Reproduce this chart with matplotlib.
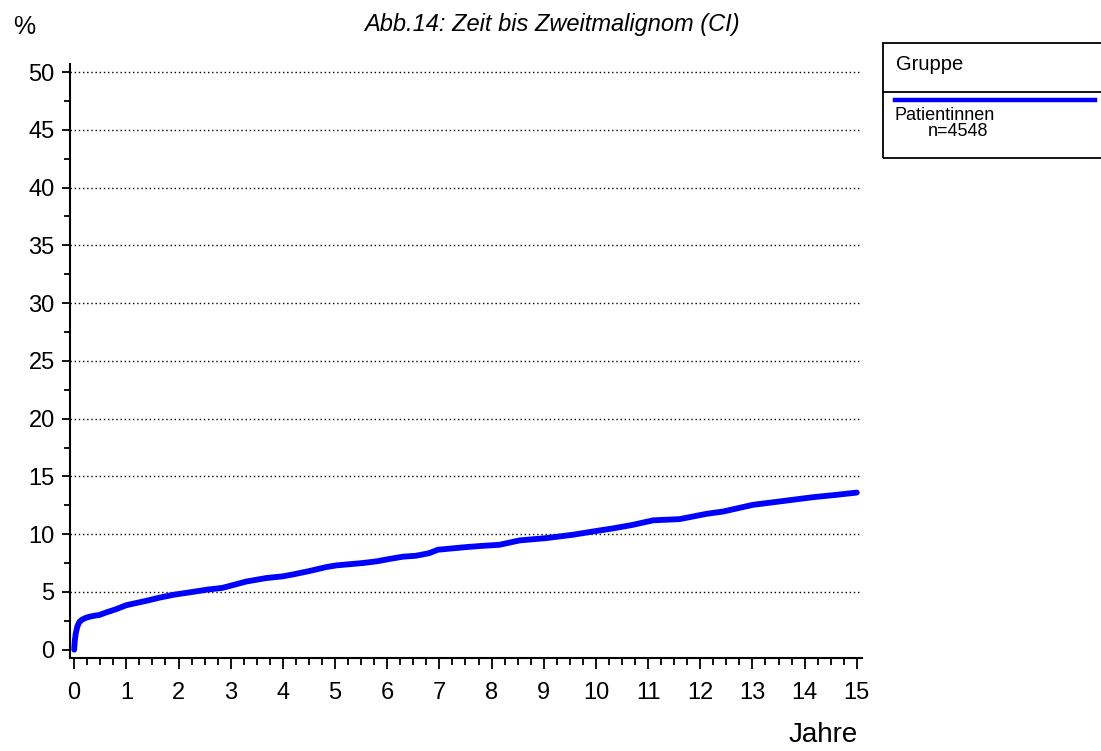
import numpy as np
import matplotlib
matplotlib.use("Agg")
import matplotlib.pyplot as plt
from matplotlib.ticker import MultipleLocator

# === DONNÉES ===
jahre = [0.0, 0.01, 0.03, 0.06, 0.1, 0.15, 0.22, 0.29, 0.4, 0.48, 0.6, 0.8,
         1.0, 1.2, 1.4, 1.63, 1.9, 2.27, 2.55, 2.84, 3.05, 3.3, 3.68, 4.0,
         4.18, 4.5, 4.83, 5.03, 5.53, 5.8, 6.04, 6.3, 6.55, 6.8, 6.97, 7.51,
         7.8, 8.15, 8.54, 9.05, 9.56, 10.04, 10.33, 10.7, 11.1, 11.6, 12.12,
         12.44, 13.01, 13.52, 14.16, 14.6, 15.0]
prozent = [0.0, 0.7, 1.4, 2.0, 2.4, 2.6, 2.75, 2.85, 2.95, 3.0, 3.2, 3.5,
           3.85, 4.05, 4.25, 4.5, 4.75, 5.0, 5.2, 5.35, 5.6, 5.9, 6.2, 6.35,
           6.5, 6.8, 7.15, 7.3, 7.5, 7.65, 7.85, 8.05, 8.13, 8.35, 8.65, 8.88,
           8.98, 9.08, 9.46, 9.66, 9.95, 10.3, 10.5, 10.8, 11.2, 11.3, 11.76,
           11.96, 12.54, 12.83, 13.2, 13.4, 13.6]

titel = "Abb.14: Zeit bis Zweitmalignom (CI)"
gruppe = "Patientinnen"
n_text = "n=4548"
y_ticks = list(range(0, 51, 5))
x_ticks = list(range(0, 16))

plt.rcParams["font.family"] = ["Liberation Sans", "DejaVu Sans"]

fig = plt.figure(figsize=(11.01, 7.51), dpi=100)
ax = fig.add_axes([70 / 1101, 93 / 751, (862 - 70) / 1101, (658 - 64) / 751])

# grille pointillée
for yv in y_ticks[1:]:
    ax.axhline(yv, color="black", linestyle=(0, (1, 2)), linewidth=1.0, zorder=1)

ax.plot(jahre, prozent, color="#0000ff", linewidth=4.2, solid_capstyle="round", zorder=3)

ax.set_xlim(-0.08, 15.1)
ax.set_ylim(-0.72, 50.7)
ax.set_xticks(x_ticks)
ax.set_yticks(y_ticks)
ax.xaxis.set_minor_locator(MultipleLocator(0.25))
ax.yaxis.set_minor_locator(MultipleLocator(2.5))
ax.tick_params(axis="both", which="major", labelsize=17, width=1.3, color="black")
ax.tick_params(axis="x", which="major", length=8, pad=9)
ax.tick_params(axis="y", which="major", length=6, pad=5)
ax.tick_params(axis="x", which="minor", length=5, width=1.3)
ax.tick_params(axis="y", which="minor", length=4, width=1.3)

for side in ("top", "right"):
    ax.spines[side].set_visible(False)
for side in ("left", "bottom"):
    ax.spines[side].set_linewidth(1.5)

fig.text(13 / 1101, 1 - 27 / 751, "%", fontsize=18, va="center", ha="left")
fig.text(552 / 1101, 1 - 25 / 751, titel, fontsize=17, style="italic",
         va="center", ha="center")
fig.text(823 / 1101, 1 - 735 / 751, "Jahre", fontsize=20, va="center", ha="center")

# ───── Légende manuelle ─────
lx0, ly0, lx1, ly1 = 883 / 1101, 1 - 158 / 751, 1110 / 1101, 1 - 43 / 751
fig.add_artist(plt.Rectangle((lx0, ly0), lx1 - lx0, ly1 - ly0, transform=fig.transFigure,
                             fill=False, edgecolor="black", linewidth=1.3))
fig.add_artist(plt.Line2D([lx0, lx1], [1 - 92 / 751] * 2, transform=fig.transFigure,
                          color="black", linewidth=1.3))
fig.add_artist(plt.Line2D([895 / 1101, 1095 / 1101], [1 - 100 / 751] * 2,
                          transform=fig.transFigure, color="#0000ff", linewidth=3.2))
fig.text(896 / 1101, 1 - 65 / 751, "Gruppe", fontsize=14.5, va="center", ha="left")
fig.text(894 / 1101, 1 - 116 / 751, gruppe, fontsize=13, va="center", ha="left")
fig.text(928 / 1101, 1 - 132 / 751, n_text, fontsize=13, va="center", ha="left")

fig.savefig("out.png", dpi=100)
